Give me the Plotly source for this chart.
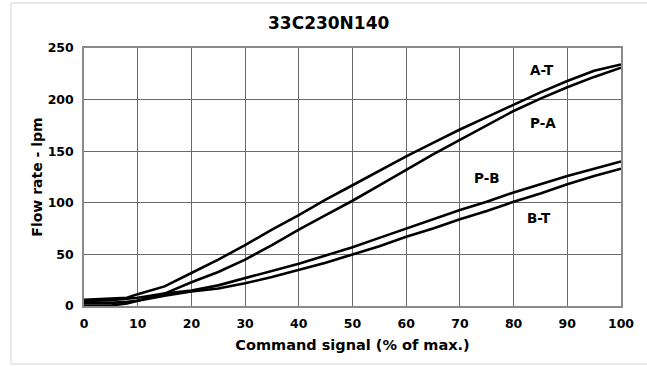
import plotly.graph_objects as go

# Command signal (% of max.)
signal = [0, 5, 8, 10, 15, 20, 25, 30, 35, 40, 45, 50, 55, 60, 65, 70, 75, 80, 85, 90, 95, 100]

# Flow rate (lpm) per flow path
flow_at = [6, 7, 8, 11.5, 19, 32, 45, 59, 74, 88, 103, 117, 131, 145, 158, 171, 183, 195, 207, 218, 228, 234]
flow_pa = [3, 3, 4, 5, 12, 23, 33, 45, 59, 74, 88, 102, 117, 132, 147, 161, 175, 189, 201, 212, 222, 231]
flow_pb = [5, 5.5, 7, 8, 12, 15, 20, 27, 34, 41, 49, 57, 66, 75, 84, 93, 101, 110, 118, 126, 133, 140]
flow_bt = [0.5, 0.5, 2.5, 5, 10, 14, 17, 22, 28, 35, 42, 50, 58, 67, 75, 84, 92, 101, 109, 118, 126, 133]

series_names = ["A-T", "P-A", "P-B", "B-T"]
series_values = [flow_at, flow_pa, flow_pb, flow_bt]

# Label placement (signal %, flow lpm)
label_x = [85.2, 85.4, 75.0, 84.7]
label_y = [229, 177, 124, 85]

x_ticks = list(range(0, 101, 10))
y_ticks = list(range(0, 251, 50))

FONT = "DejaVu Sans"

fig = go.Figure()
for name, vals in zip(series_names, series_values):
    fig.add_trace(go.Scatter(
        x=signal, y=vals, mode="lines", name=name,
        line=dict(color="black", width=2.6), showlegend=False,
    ))

for name, lx, ly in zip(series_names, label_x, label_y):
    fig.add_annotation(
        x=lx, y=ly, text=name, showarrow=False,
        font=dict(family=FONT, size=13.5, color="black", weight="bold"),
    )

# light outer frame
frame = dict(type="line", xref="paper", yref="paper",
             line=dict(color="#e2e2e2", width=1.5))
fig.add_shape(x0=-0.136, x1=-0.136, y0=-0.225, y1=1.174, **frame)
fig.add_shape(x0=-0.136, x1=1.06, y0=1.174, y1=1.174, **frame)
fig.add_shape(x0=-0.136, x1=1.06, y0=-0.225, y1=-0.225, **frame)

axis_common = dict(
    showgrid=True, gridcolor="#6a6a6a", gridwidth=1,
    showline=True, linecolor="#8a8a8a", linewidth=1.5, mirror=True,
    zeroline=False, ticks="",
    tickfont=dict(family=FONT, size=12.5, color="black", weight="bold"),
)

fig.update_layout(
    width=647, height=366,
    margin=dict(l=84, r=26, t=48, b=60),
    paper_bgcolor="white", plot_bgcolor="white",
    title=dict(text="33C230N140", x=0.508, xref="container", xanchor="center",
               y=0.936, yref="container", yanchor="middle",
               font=dict(family=FONT, size=17, color="black", weight="bold")),
    xaxis=dict(range=[0, 100], tickvals=x_ticks, ticklabelstandoff=5,
               title=dict(text="Command signal (% of max.)", standoff=10,
                          font=dict(family=FONT, size=14.5, color="black", weight="bold")),
               **axis_common),
    yaxis=dict(range=[0, 250], tickvals=y_ticks, ticklabelstandoff=6,
               title=dict(text="Flow rate - lpm", standoff=2,
                          font=dict(family=FONT, size=14, color="black", weight="bold")),
               **axis_common),
)

fig.write_html("out.html")
